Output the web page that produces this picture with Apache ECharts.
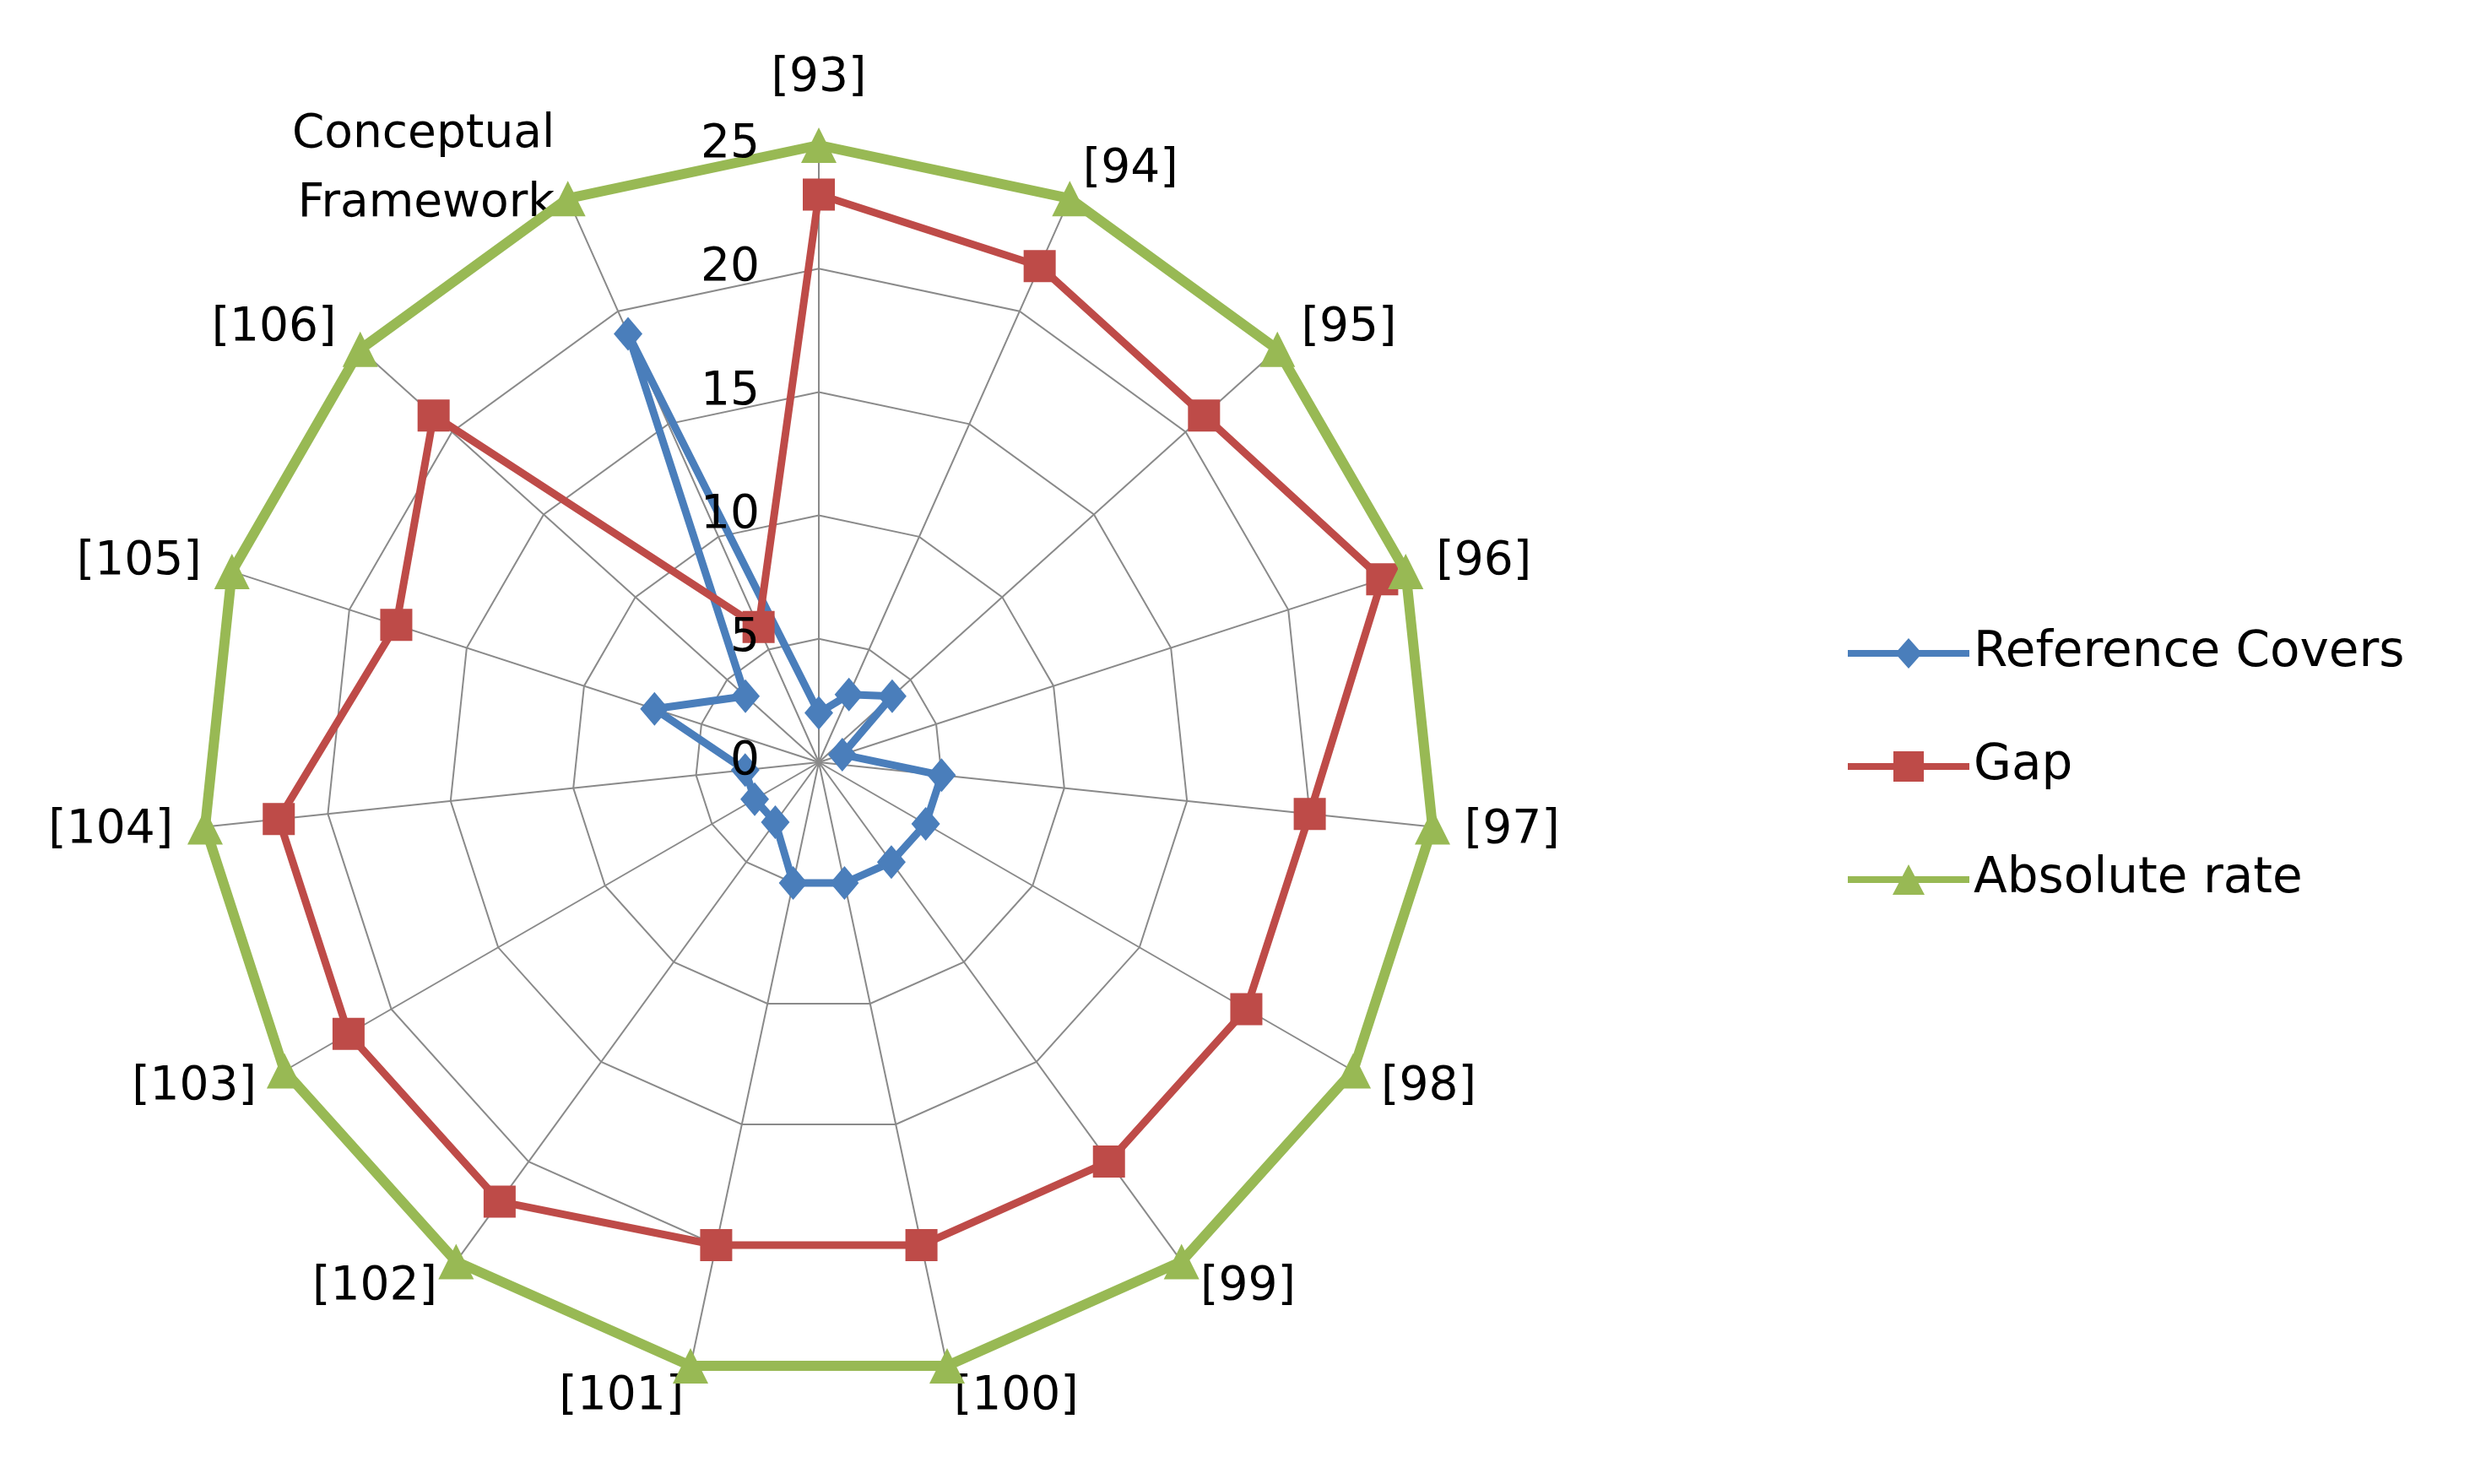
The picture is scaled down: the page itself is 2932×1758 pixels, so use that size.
<!DOCTYPE html>
<html>
<head>
<meta charset="utf-8">
<script src="https://cdn.jsdelivr.net/npm/echarts@6/dist/echarts.min.js"></script>
<style>
html,body{margin:0;padding:0;background:#fff}
#chart{width:2932px;height:1758px}
</style>
</head>
<body>
<div id="chart"></div>
<script>
// spokes, read clockwise from the top
var categories=['[93]','[94]','[95]','[96]','[97]','[98]','[99]','[100]','[101]','[102]','[103]','[104]','[105]','[106]','Conceptual\nFramework'];
var referenceCovers=[2,3,4,1,5,5,5,5,5,3,3,3,7,4,19];
var gapValues=[23,22,21,24,20,20,20,20,20,22,22,22,18,21,6];
var absoluteRate=[25,25,25,25,25,25,25,25,25,25,25,25,25,25,25];
var axisTicks=[0,5,10,15,20,25];
var seriesNames=['Reference Covers','Gap','Absolute rate'];

window.onload=function(){
    var font='DejaVu Sans',
        fs=55,
        grey='#8a8a8a',
        center=[970,903],
        radius=731;
    // radar runs counter-clockwise, so keep the first spoke and flip the rest
    function ccw(arr){
        return [arr[0]].concat(arr.slice(1).reverse());
    }
    var maxV=axisTicks[axisTicks.length-1];
    var indicator=ccw(categories).map(function(name){
        return {name:name,min:axisTicks[0],max:maxV};
    });
    var icons=[
        'path://M0,14H144V22H0Z M72,0L88,18L72,36L56,18Z',
        'path://M0,14H144V22H0Z M54,0H90V36H54Z',
        'path://M0,14H144V22H0Z M72,0L91,36H53Z'
    ];
    var colors=['#4a7ebb','#be4b48','#98b954'];
    var symbols=['diamond','rect','triangle'];
    var sizes=[[34,40],38,42];
    var values=[referenceCovers,gapValues,absoluteRate];
    var widths=[9,9,12];

    var series=values.map(function(v,i){
        return {
            type:'radar',
            name:seriesNames[i],
            symbol:symbols[i],
            symbolSize:sizes[i],
            z:2+i,
            lineStyle:{color:colors[i],width:widths[i]},
            itemStyle:{color:colors[i]},
            data:[{value:ccw(v),name:seriesNames[i]}]
        };
    });
    // draw green first, blue last like the reference
    series.reverse();

    var option={
        backgroundColor:'#fff',
        animation:false,
        textStyle:{fontFamily:font},
        legend:{
            orient:'vertical',
            left:2184,
            top:740,
            itemWidth:144,
            itemHeight:36,
            itemGap:76,
            textStyle:{fontFamily:font,fontSize:fs+3,color:'#000'},
            data:seriesNames.map(function(n,i){
                return {name:n,icon:icons[i],itemStyle:{color:colors[i]}};
            })
        },
        radar:{
            center:center,
            radius:radius,
            startAngle:90,
            shape:'polygon',
            splitNumber:axisTicks.length-1,
            nameGap:38,
            axisName:{color:'#000',fontFamily:font,fontSize:fs,lineHeight:82},
            axisLine:{lineStyle:{color:grey,width:2}},
            splitLine:{lineStyle:{color:grey,width:2}},
            splitArea:{show:false},
            indicator:indicator
        },
        polar:{center:center,radius:radius},
        angleAxis:{type:'value',startAngle:90,show:false},
        radiusAxis:{
            type:'value',
            z:20,
            min:axisTicks[0],
            max:maxV,
            interval:axisTicks[1]-axisTicks[0],
            axisLine:{show:false},
            axisTick:{show:false},
            splitLine:{show:false},
            axisLabel:{margin:70,fontFamily:font,fontSize:fs,color:'#000'}
        },
        series:series
    };
    var chart=echarts.init(document.getElementById('chart'));
    chart.setOption(option);
};
</script>
</body>
</html>
